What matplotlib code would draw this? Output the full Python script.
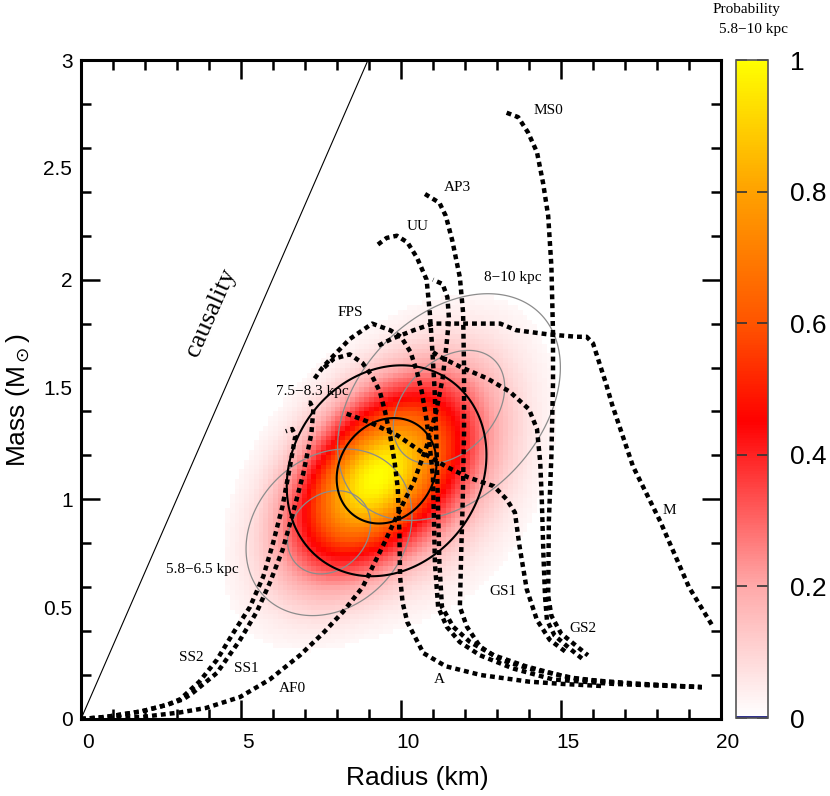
import numpy as np
import matplotlib
matplotlib.use("Agg")
from matplotlib import pyplot as plt
from matplotlib.colors import LinearSegmentedColormap
import matplotlib.transforms as mtransforms

plt.rcParams['font.family'] = ['Liberation Sans', 'DejaVu Sans']

# ---- EOS mass-radius curves (R in km, M in solar masses)
ss2_R = [0, 0.8, 1.9, 2.7, 3.1, 3.7, 4.25, 4.75, 5.28, 5.7, 6.0, 6.3, 6.53, 6.7, 6.6, 6.4]
ss2_M = [0, 0.01, 0.035, 0.065, 0.09, 0.17, 0.27, 0.39, 0.51, 0.65, 0.8, 0.97, 1.15, 1.29, 1.32, 1.31]
ss1_R = [0, 0.8, 1.9, 2.7, 3.2, 3.5, 4.25, 4.97, 5.5, 5.9, 6.3, 6.63, 6.95, 7.2, 7.26, 7.16, 7.06]
ss1_M = [0, 0.01, 0.035, 0.065, 0.09, 0.12, 0.21, 0.36, 0.49, 0.62, 0.77, 0.94, 1.12, 1.3, 1.41, 1.44, 1.44]
af0_R = [0, 1.0, 1.94, 3.1, 3.9, 4.97, 5.9, 6.84, 7.56, 8.2, 8.8, 9.44, 9.86, 10.4, 10.8, 11.1, 11.3, 11.42, 11.5, 11.45, 11.3, 11.0]
af0_M = [0, 0.004, 0.01, 0.03, 0.05, 0.1, 0.18, 0.29, 0.39, 0.49, 0.6, 0.79, 0.92, 1.08, 1.24, 1.4, 1.55, 1.7, 1.82, 1.92, 1.98, 2.0]
fps_R = [7.3, 7.55, 7.8, 8.4, 9.1, 9.66, 10.0, 10.3, 10.5, 10.65, 10.8, 10.9, 11.0, 11.03, 11.06, 11.16, 11.43, 11.84, 12.47, 13.5, 14.75, 16.6, 19.4]
fps_M = [1.55, 1.6, 1.64, 1.73, 1.8, 1.77, 1.74, 1.67, 1.58, 1.49, 1.36, 1.24, 1.1, 0.9, 0.71, 0.51, 0.42, 0.35, 0.29, 0.23, 0.18, 0.16, 0.145]
uu_R = [9.28, 9.55, 9.87, 10.2, 10.5, 10.8, 10.9, 10.97, 11.05, 11.1, 11.15, 11.2, 11.28, 11.63, 12.16, 12.9, 13.9, 15.2, 17.0, 19.4]
uu_M = [2.16, 2.19, 2.2, 2.17, 2.1, 2.0, 1.85, 1.7, 1.5, 1.3, 1.0, 0.71, 0.51, 0.42, 0.35, 0.29, 0.24, 0.19, 0.16, 0.145]
a_R = [7.6, 7.9, 8.4, 8.8, 9.1, 9.34, 9.5, 9.66, 9.8, 9.9, 9.95, 9.97, 10.05, 10.2, 10.7, 11.4, 12.5, 14.0, 15.0, 16.3]
a_M = [1.6, 1.64, 1.66, 1.62, 1.56, 1.49, 1.4, 1.29, 1.17, 1.05, 0.85, 0.65, 0.53, 0.44, 0.3, 0.24, 0.2, 0.17, 0.16, 0.15]
ap3_R = [10.75, 11.2, 11.4, 11.6, 11.84, 11.94, 11.97, 11.97, 11.93, 11.88, 11.84, 12.06, 12.47, 13.1, 14.0, 15.6, 17.5, 19.4]
ap3_M = [2.39, 2.35, 2.29, 2.18, 2.01, 1.85, 1.6, 1.3, 1.0, 0.75, 0.51, 0.42, 0.33, 0.27, 0.23, 0.18, 0.16, 0.145]
gs1_R = [8.3, 9.03, 9.9, 10.7, 11.4, 12.1, 12.9, 13.3, 13.56, 13.7, 13.93, 14.25, 14.65, 15.2]
gs1_M = [1.39, 1.35, 1.29, 1.21, 1.15, 1.1, 1.06, 1.0, 0.94, 0.79, 0.59, 0.45, 0.36, 0.3]
gs2_R = [11.0, 11.2, 11.9, 12.7, 13.4, 14.0, 14.25, 14.35, 14.4, 14.45, 14.5, 14.56, 14.8, 15.28, 15.7]
gs2_M = [1.67, 1.65, 1.6, 1.55, 1.49, 1.41, 1.32, 1.17, 1.0, 0.75, 0.56, 0.45, 0.38, 0.32, 0.27]
ms0_R = [13.3, 13.66, 13.97, 14.25, 14.44, 14.6, 14.7, 14.75, 14.75, 14.7, 14.62, 14.6, 14.7, 15.0, 15.5, 15.84]
ms0_M = [2.76, 2.74, 2.67, 2.58, 2.44, 2.29, 2.06, 1.76, 1.53, 1.2, 0.9, 0.56, 0.47, 0.39, 0.33, 0.29]
m_R = [9.3, 9.7, 10.4, 11.0, 11.9, 13.1, 13.6, 14.65, 15.5, 15.8, 16.0, 16.4, 16.6, 17.25, 18.1, 19.0, 19.75]
m_M = [1.70, 1.73, 1.77, 1.8, 1.8, 1.8, 1.77, 1.75, 1.74, 1.74, 1.71, 1.53, 1.43, 1.15, 0.9, 0.6, 0.42]

eos_curves = [(ss2_R, ss2_M), (ss1_R, ss1_M), (af0_R, af0_M), (fps_R, fps_M),
              (uu_R, uu_M), (a_R, a_M), (ap3_R, ap3_M), (gs1_R, gs1_M),
              (gs2_R, gs2_M), (ms0_R, ms0_M), (m_R, m_M)]

# labels of the curves and regions (text, R, M)
eos_labels = ["MS0", "AP3", "UU", "FPS", "SS2", "SS1", "AF0", "A", "GS1", "GS2", "M"]
eos_label_R = [14.6, 11.75, 10.53, 8.4, 3.44, 5.16, 6.6, 11.2, 13.2, 15.7, 18.4]
eos_label_M = [2.77, 2.42, 2.24, 1.85, 0.28, 0.23, 0.14, 0.18, 0.58, 0.41, 0.95]
dist_labels = ["8\u221210 kpc", "7.5\u22128.3 kpc", "5.8\u22126.5 kpc"]
dist_label_R = [13.5, 7.22, 3.78]
dist_label_M = [2.01, 1.49, 0.68]

# causality limit
causality_R = [0, 8.97]
causality_M = [0, 3.0]

# probability map (5.8-10 kpc): two tilted gaussian blobs
# [centre R, centre M, sigma R, sigma M, correlation, weight]
heat_main = [9.1, 1.09, 1.7, 0.28, 0.45, 1.0]
heat_ext = [11.6, 1.18, 1.5, 0.32, 0.3, 0.2]

# contour regions per distance: [centre R, centre M, sigma R, sigma M, correlation]
cont_near = [7.75, 0.85, 1.08, 0.158, 0.2]     # 5.8-6.5 kpc (grey)
cont_mid = [9.55, 1.13, 1.3, 0.2, 0.15]        # 7.5-8.3 kpc (black)
cont_far = [11.5, 1.42, 1.45, 0.215, 0.35]     # 8-10 kpc (grey)
cont_r = [1.2, 2.4]                            # contour sizes in sigma

cbar_ticks = [0, 0.2, 0.4, 0.6, 0.8, 1.0]
cbar_ticklabels = ["0", "0.2", "0.4", "0.6", "0.8", "1"]


def gauss(R, M, p):
    zr = (R - p[0]) / p[2]
    zm = (M - p[1]) / p[3]
    q = (zr**2 - 2 * p[4] * zr * zm + zm**2) / (1 - p[4]**2)
    return np.exp(-0.5 * q)


W, H = 830, 796
fig = plt.figure(figsize=(W / 100, H / 100), dpi=100)
ax = fig.add_axes([81 / W, 1 - 719 / H, 640 / W, 659 / H])
cax = fig.add_axes([736 / W, 1 - 718 / H, 32 / W, 658 / H])

# colour map: white -> red -> orange -> yellow
prob_cmap = LinearSegmentedColormap.from_list(
    "prob", [(0.0, (1, 1, 1)), (0.2, (1, 0.66, 0.66)), (0.45, (1, 0.0, 0.0)),
             (0.6, (1, 0.33, 0.0)), (0.8, (1, 0.63, 0.0)), (1.0, (1, 1, 0.0))])

# probability map on a coarse grid (blocky like the original)
r_edges = np.arange(4.5, 15.6, 0.15)
m_edges = np.arange(0.3, 2.2, 0.022)
rc = 0.5 * (r_edges[1:] + r_edges[:-1])
mc = 0.5 * (m_edges[1:] + m_edges[:-1])
RR, MM = np.meshgrid(rc, mc)
prob = heat_main[5] * gauss(RR, MM, heat_main) + heat_ext[5] * gauss(RR, MM, heat_ext)
prob = prob / prob.max()
prob = np.ma.masked_less(prob, 0.02)
mesh = ax.pcolormesh(r_edges, m_edges, prob, cmap=prob_cmap, vmin=0, vmax=1,
                     shading="flat", zorder=0, rasterized=True)

# confidence contours for the three distance ranges
gr = np.linspace(3, 18, 400)
gm = np.linspace(0.1, 2.6, 400)
GR, GM = np.meshgrid(gr, gm)
levels = sorted(np.exp(-0.5 * np.array(cont_r)**2))
for p, col, lw in [(cont_near, "#8c8c8c", 0.9), (cont_far, "#8c8c8c", 0.9),
                   (cont_mid, "black", 1.5)]:
    ax.contour(GR, GM, gauss(GR, GM, p), levels=levels, colors=col,
               linewidths=lw, zorder=2)

# causality line
ax.plot(causality_R, causality_M, color="black", lw=0.8, zorder=2)
ax.text(4.06, 1.85, "causality", rotation=66, ha="center", va="center",
        fontsize=19, family="Liberation Serif")

# EOS curves
for R, M in eos_curves:
    ax.plot(R, M, color="black", lw=3.2, linestyle=(0, (1.1, 0.9)),
            dash_capstyle="butt", zorder=3)

for t, r, m in zip(eos_labels, eos_label_R, eos_label_M):
    ax.text(r, m, t, ha="center", va="center", fontsize=11, family="Liberation Serif")
for t, r, m in zip(dist_labels, dist_label_R, dist_label_M):
    ax.text(r, m, t, ha="center", va="center", fontsize=11, family="Liberation Serif")

# axes, ticks
ax.set_xlim(0, 20)
ax.set_ylim(0, 3)
for s in ax.spines.values():
    s.set_linewidth(2.2)
ax.set_xticks([0, 5, 10, 15, 20])
ax.set_xticks(np.arange(0, 20.5, 1), minor=True)
ax.set_yticks([0, 1, 2, 3])
ax.set_yticks(np.arange(0, 3.01, 0.2), minor=True)
ax.tick_params(which="both", direction="in", top=True, right=True, width=1.8,
               labelsize=15)
ax.tick_params(which="major", length=14)
ax.tick_params(which="minor", length=7)
ax.tick_params(axis="x", pad=10)
ax.tick_params(axis="y", pad=6)
shift = mtransforms.ScaledTranslation(0.07, 0, fig.dpi_scale_trans)
for lab in ax.get_xticklabels():
    lab.set_transform(lab.get_transform() + shift)
ytrans = ax.get_yaxis_transform()
for v in [0.5, 1.5, 2.5]:
    ax.text(-9 / 640, v, str(v), transform=ytrans, ha="right", va="center", fontsize=15)

fig.text(417 / W, 1 - 778 / H, "Radius (km)", ha="center", va="center", fontsize=19)
fig.text(18 / W, 1 - 400 / H, r"Mass (M$_\odot$)", ha="center", va="center",
         fontsize=19, rotation=90)

# colour bar
cb = fig.colorbar(mesh, cax=cax)
cb.set_ticks(cbar_ticks)
cb.set_ticklabels(cbar_ticklabels)
cb.outline.set_linewidth(1.2)
cb.outline.set_edgecolor("#555555")
cax.tick_params(direction="in", left=True, right=True, length=8, width=1.2,
                labelsize=19, pad=16, color="#333333")
cax.axhline(0.002, color="#1a1a80", lw=2)
fig.text(746 / W, 1 - 9 / H, "Probability", ha="center", va="center", fontsize=11,
         family="Liberation Serif")
fig.text(753 / W, 1 - 30 / H, "5.8\u221210 kpc", ha="center", va="center", fontsize=11,
         family="Liberation Serif")

plt.savefig("out.png", dpi=100)
